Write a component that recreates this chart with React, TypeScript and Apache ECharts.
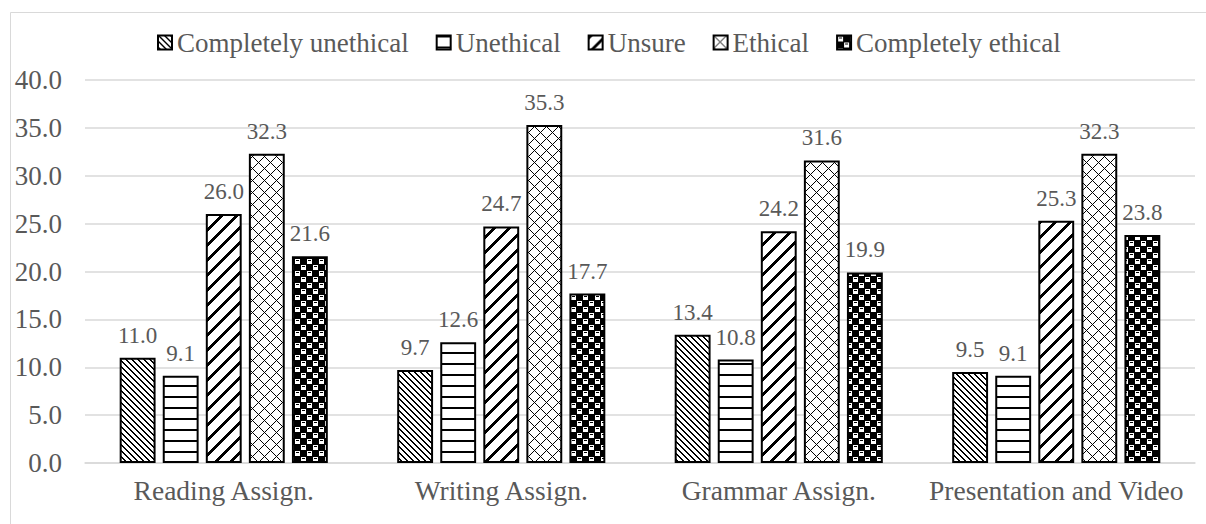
import React, { useEffect, useRef } from "react";
import * as echarts from "echarts";

const categories = ["Reading Assign.", "Writing Assign.", "Grammar Assign.", "Presentation and Video"];
const seriesNames = ["Completely unethical", "Unethical", "Unsure", "Ethical", "Completely ethical"];
const completelyUnethical = [11.0, 9.7, 13.4, 9.5];
const unethical = [9.1, 12.6, 10.8, 9.1];
const unsure = [26.0, 24.7, 24.2, 25.3];
const ethical = [32.3, 35.3, 31.6, 32.3];
const completelyEthical = [21.6, 17.7, 19.9, 23.8];
const yTicks = { min: 0, max: 40, interval: 5 };

function makePattern(w: number, h: number, fn: (x: number, y: number) => boolean) {
  const c = document.createElement("canvas");
  c.width = w;
  c.height = h;
  const ctx = c.getContext("2d")!;
  const img = ctx.createImageData(w, h);
  for (let y = 0; y < h; y++) {
    for (let x = 0; x < w; x++) {
      const i = (y * w + x) * 4;
      const b = fn(x, y);
      const v = b ? 0 : 255;
      img.data[i] = v;
      img.data[i + 1] = v;
      img.data[i + 2] = v;
      img.data[i + 3] = 255;
    }
  }
  ctx.putImageData(img, 0, 0);
  return { image: c.toDataURL(), imageWidth: w, imageHeight: h, repeat: "repeat" };
}

const mod = (a: number, n: number) => ((a % n) + n) % n;

export default function App() {
  const ref = useRef<HTMLDivElement>(null);
  useEffect(() => {
    document.body.style.margin = "0";
    const chart = echarts.init(ref.current!, null, { renderer: "svg" });
    const patterns = [
      makePattern(6, 6, (x, y) => mod(x - y, 6) < 2),
      makePattern(4, 11, (x, y) => y < 2),
      makePattern(15, 15, (x, y) => mod(x + y, 15) < 4),
      makePattern(12, 12, (x, y) => mod(x + y, 12) === 0 || mod(x - y, 12) === 0),
      makePattern(12, 12, (x, y) => {
        const inA = x >= 1 && x <= 5 && y >= 1 && y <= 5;
        const inB = x >= 7 && x <= 11 && y >= 7 && y <= 11;
        if (inA) return y === 2 && x >= 2 && x <= 4;
        if (inB) return y === 8 && x >= 8 && x <= 10;
        return true;
      }),
    ];
    const dataSets = [completelyUnethical, unethical, unsure, ethical, completelyEthical];
    const font = "Liberation Serif";
    chart.setOption({
      animation: false,
      textStyle: { fontFamily: font },
      graphic: [
        {
          type: "rect",
          shape: { x: 10.5, y: 12.5, width: 1220, height: 540 },
          style: { fill: "none", stroke: "#d9d9d9", lineWidth: 1 },
          silent: true,
        },
      ],
      legend: {
        top: 24,
        left: 152,
        icon: "rect",
        itemWidth: 14,
        itemHeight: 14,
        itemGap: 27,
        textStyle: { fontFamily: font, fontSize: 27, color: "#595959" },
        data: seriesNames,
      },
      grid: { left: 85, right: 11, top: 80, bottom: 61, containLabel: false },
      xAxis: {
        type: "category",
        data: categories,
        axisTick: { show: false },
        axisLine: { lineStyle: { color: "#d9d9d9", width: 1.5 } },
        axisLabel: { interval: 0, fontFamily: font, fontSize: 27.5, color: "#595959", margin: 13 },
      },
      yAxis: {
        type: "value",
        min: yTicks.min,
        max: yTicks.max,
        interval: yTicks.interval,
        axisLine: { show: false },
        axisTick: { show: false },
        splitLine: { lineStyle: { color: "#d9d9d9", width: 1.5 } },
        axisLabel: {
          fontFamily: font,
          fontSize: 27,
          color: "#595959",
          margin: 23,
          formatter: (v: number) => v.toFixed(1),
        },
      },
      series: seriesNames.map((name, i) => ({
        name,
        type: "bar",
        data: dataSets[i],
        barGap: "20%",
        barCategoryGap: "25%",
        itemStyle: { color: patterns[i], borderColor: "#000", borderWidth: 2 },
        label: {
          show: true,
          position: "top",
          distance: 11,
          fontFamily: font,
          fontSize: 23,
          color: "#595959",
          formatter: (p: any) => Number(p.value).toFixed(1),
        },
      })),
    });
    return () => chart.dispose();
  }, []);
  return <div ref={ref} style={{ width: 1206, height: 524 }} />;
}
